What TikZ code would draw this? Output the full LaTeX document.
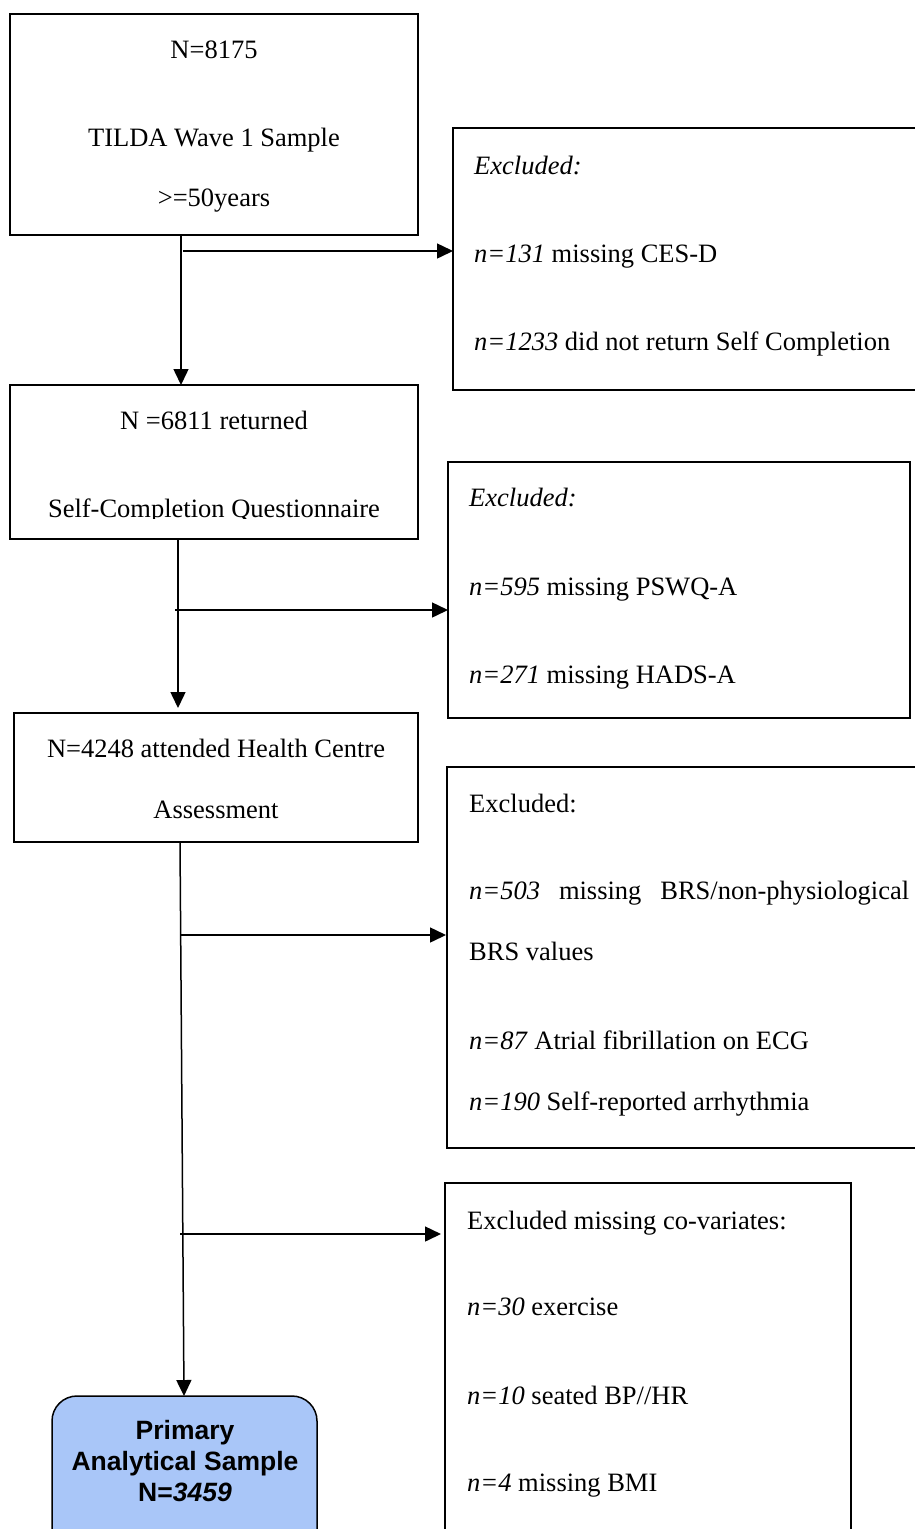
\documentclass[tikz,border=0pt]{standalone}
\usepackage{fontspec}
\setmainfont{Liberation Serif}
\newfontfamily\arialfont{Liberation Sans}
\usetikzlibrary{calc,arrows.meta}
\definecolor{pasblue}{RGB}{169,198,248}
\tikzset{
  box/.style={draw, line width=1.5pt, inner sep=0pt, outer sep=0pt, anchor=north west},
  arr/.style={line width=1.5pt, -{Triangle[length=16pt,width=15pt]}},
  txt/.style={inner sep=0pt, anchor=base, font=\fontsize{26.5}{30}\selectfont},
  ltxt/.style={txt, anchor=base west},
  ptxt/.style={inner sep=0pt, anchor=base, font=\arialfont\bfseries\fontsize{26.5}{31}\selectfont},
}
\begin{document}
\begin{tikzpicture}[x=1pt,y=-1pt]
\useasboundingbox (0,0) rectangle (915,1529);
\clip (0,0) rectangle (915,1529);
\fill[white] (0,0) rectangle (915,1529);
% left boxes
\node[box, minimum width=408, minimum height=221] (b1) at (10,14) {};
\node[box, minimum width=408, minimum height=154] (b2) at (10,385) {};
\node[box, minimum width=404, minimum height=129] (b3) at (14,713) {};
\node[box, draw=black, fill=pasblue, rounded corners=25pt, minimum width=265, minimum height=180] (pas) at (52,1396) {};
% right boxes
\node[box, minimum width=480, minimum height=262] (r1) at (453,128) {};
\node[box, minimum width=462, minimum height=256] (r2) at (448,462) {};
\node[box, minimum width=480, minimum height=381] (r3) at (447,767) {};
\node[box, minimum width=406, minimum height=380] (r4) at (445,1183) {};
% texts left
\node[txt] (t11) at (214,58) {N=8175};
\node[txt] (t12) at (214,146) {TILDA Wave 1 Sample};
\node[txt] (t13) at (214,206) {>=50years};
\node[txt] (t21) at (214,429) {N =6811 returned};
\begin{scope}
\clip (10,380) rectangle (418,518);
\node[txt] (t22) at (214,517) {Self-Completion Questionnaire};
\end{scope}
\node[txt] (t31) at (216,757) {N=4248 attended Health Centre};
\node[txt] (t32) at (216,818) {Assessment};
\node[ptxt] (tp1) at (185,1439) {Primary};
\node[ptxt] (tp2) at (185,1470) {Analytical Sample};
\node[ptxt] (tp3) at (185,1501) {N=\textit{3459}};
% texts right
\node[ltxt] (s11) at (474,174) {\textit{Excluded:}};
\node[ltxt] (s12) at (474,262) {\textit{n=131} missing CES-D};
\node[ltxt] (s13) at (474,350) {\textit{n=1233} did not return Self Completion};
\node[ltxt] (s21) at (469,506) {\textit{Excluded:}};
\node[ltxt] (s22) at (469,595) {\textit{n=595} missing PSWQ-A};
\node[ltxt] (s23) at (469,683) {\textit{n=271} missing HADS-A};
\node[ltxt] (s31) at (469,812) {Excluded:};
\node[ltxt] (s32) at (469,899) {\hbox to 440pt{\textit{n=503}\hfil missing\hfil BRS/non-physiological}};
\node[ltxt] (s33) at (469,960) {BRS values};
\node[ltxt] (s34) at (469,1049) {\textit{n=87} Atrial fibrillation on ECG};
\node[ltxt] (s35) at (469,1110) {\textit{n=190} Self-reported arrhythmia};
\node[ltxt] (s41) at (467,1229) {Excluded missing co-variates:};
\node[ltxt] (s42) at (467,1315) {\textit{n=30} exercise};
\node[ltxt] (s43) at (467,1404) {\textit{n=10} seated BP//HR};
\node[ltxt] (s44) at (467,1491) {\textit{n=4} missing BMI};
% connectors
\draw[arr] ($(b1.south west)+(171,0)$) -- ($(b2.north west)+(171,0)$);
\coordinate (j1) at (183,251);
\draw[arr] (j1) -- (r1.west |- j1);
\draw[arr] ($(b2.south west)+(168,0)$) -- ($(b3.north west)+(164,-5)$);
\coordinate (j2) at (175,610);
\draw[arr] (j2) -- (r2.west |- j2);
\draw[arr] ($(b3.south west)+(166,0)$) -- ($(pas.north west)+(132,0)$);
\coordinate (j3) at (181,935);
\draw[arr] (j3) -- ($(r3.west |- j3)+(-1,0)$);
\coordinate (j4) at (180,1234);
\draw[arr] (j4) -- ($(r4.west |- j4)+(-4,0)$);
\end{tikzpicture}
\end{document}
